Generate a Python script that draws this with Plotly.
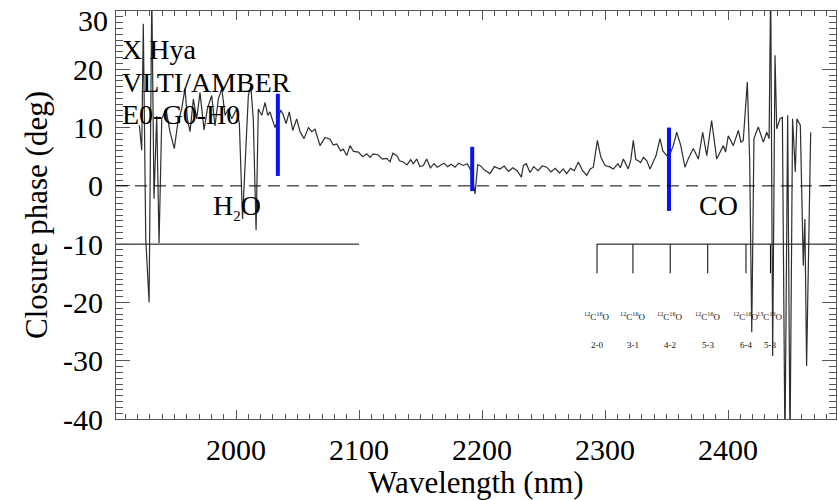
import plotly.graph_objects as go

# ---- data ----
wavelength = [1921.4, 1923.3, 1924.6, 1926.6, 1929.3, 1931.5, 1933.3, 1935.5, 1937.4, 1939.6,
              1943.0, 1946.3, 1949.8, 1952.6, 1955.8, 1958.5, 1960.4, 1962.6, 1965.3, 1968.0,
              1970.7, 1974.0, 1976.7, 1980.2, 1982.9, 1985.6, 1988.4, 1991.1, 1993.7, 1996.5,
              2000.5, 2002.7, 2005.3, 2008.0, 2010.0, 2012.0, 2014.0, 2016.3, 2018.1, 2020.9,
              2023.6, 2025.8, 2027.6, 2029.8, 2031.7, 2034.4, 2036.2, 2038.0, 2040.7, 2043.3,
              2046.1, 2049.3, 2052.0, 2055.3, 2058.8, 2061.5, 2064.2, 2068.3, 2072.4, 2076.4,
              2079.0, 2081.9, 2085.0, 2087.2, 2090.0, 2092.7, 2095.5, 2099.5, 2103.0, 2106.3,
              2109.0, 2111.6, 2115.7, 2119.0, 2122.5, 2125.2, 2127.5, 2130.6, 2133.0, 2136.0,
              2139.0, 2142.0, 2144.1, 2146.9, 2149.5, 2152.3, 2155.0, 2158.0, 2161.0, 2163.5,
              2165.9, 2169.0, 2172.0, 2175.0, 2178.0, 2181.0, 2184.8, 2188.0, 2191.6, 2194.3,
              2196.5, 2198.4, 2202.0, 2206.5, 2210.0, 2214.6, 2218.0, 2221.5, 2225.0, 2228.5,
              2232.0, 2233.6, 2236.0, 2239.0, 2242.0, 2245.5, 2249.0, 2252.6, 2256.0, 2259.5,
              2263.0, 2266.0, 2268.8, 2272.0, 2275.0, 2278.3, 2281.5, 2285.1, 2288.0, 2290.5,
              2293.8, 2296.5, 2300.0, 2303.5, 2306.8, 2310.5, 2312.5, 2314.9, 2318.9, 2321.0,
              2323.0, 2325.0, 2327.1, 2329.0, 2331.2, 2334.0, 2336.6, 2338.5, 2341.5, 2344.7,
              2347.0, 2350.2, 2352.0, 2355.5, 2358.3, 2361.5, 2365.0, 2368.0, 2371.8, 2375.9,
              2379.4, 2382.7, 2386.7, 2390.8, 2393.5, 2396.2, 2398.0, 2400.2, 2404.3, 2408.4,
              2410.5, 2412.4, 2415.7, 2417.6, 2419.3, 2421.1, 2424.6, 2428.7, 2431.5, 2433.4,
              2434.7, 2436.3, 2438.2, 2439.6, 2442.3, 2444.2, 2446.3, 2448.5, 2450.4, 2452.5,
              2454.7, 2456.0, 2458.8, 2461.2, 2462.5, 2463.9, 2467.2]
closure_phase = [10.4, 6.1, 27.8, -9.1, -20.0, 33.0, -2.2, 12.0, -9.8, 11.5,
                 13.2, 9.3, 6.4, 10.7, 13.2, 16.7, 11.5, 9.3, 14.9, 11.5,
                 16.0, 9.6, 13.2, 15.5, 10.3, 14.9, 16.7, 12.1, 13.2, 11.5,
                 13.2, 10.7, -5.7, 6.9, 15.5, 17.2, 11.5, -7.6, 13.2, 12.1,
                 14.3, 12.1, 12.7, 11.2, 10.0, 11.5, 13.0, 12.4, 10.7, 12.7,
                 9.5, 11.5, 9.3, 8.1, 10.0, 9.3, 9.7, 6.9, 8.3, 8.0,
                 7.0, 7.2, 6.0, 6.3, 5.2, 6.9, 5.9, 5.8, 5.0, 5.5,
                 4.9, 5.5, 5.3, 4.6, 4.7, 4.1, 5.6, 5.2, 4.3, 4.1,
                 3.6, 4.5, 3.8, 4.6, 3.3, 3.5, 4.6, 3.1, 3.8, 3.2,
                 3.5, 3.9, 3.3, 3.7, 3.2, 3.9, 3.5, 3.8, 2.4, -1.4,
                 3.6, 3.5, 2.7, 2.1, 3.3, 2.9, 3.4, 2.5, 3.1, 2.6,
                 1.5, 3.5, 3.8, 2.3, 3.3, 2.6, 3.4, 3.2, 2.4, 3.0,
                 2.2, 2.9, 2.1, 3.0, 2.6, 4.1, 2.7, 1.8, 2.9, 3.2,
                 7.8, 5.0, 3.5, 3.3, 2.9, 3.8, 3.1, 4.6, 2.9, 4.5,
                 7.8, 4.5, 4.3, 4.0, 4.9, 4.3, 2.9, 3.8, 5.2, 8.1,
                 6.0, 5.2, 5.0, 6.9, 9.2, 7.0, 3.2, 4.8, 6.4, 4.6,
                 9.2, 5.2, 11.2, 4.6, 5.8, 6.9, 5.8, 8.6, 6.9, 9.5,
                 7.5, 7.8, 17.8, 4.6, -25.1, 8.1, 10.1, 7.5, 9.2, 8.1,
                 35.0, -29.2, 22.4, 9.8, 11.5, 11.8, -45.0, 12.1, -45.0, 11.5,
                 2.4, 11.5, 10.4, -13.7, -5.7, -30.9, 9.2]

# error bars (blue) : wavelength, low, high
bar_wavelength = [2034.0, 2192.0, 2352.0]
bar_low = [1.7, -0.9, -4.3]
bar_high = [15.8, 6.7, 10.0]

# band markers
h2o_band = [1902.0, 2100.0]
co_band_end = 2490.0
band_level = -10.0
co_tick_bottom = -15.0
co_heads = [2293.5, 2322.7, 2353.0, 2383.5, 2414.6, 2434.5]
co_species = ["<sup>12</sup>C<sup>16</sup>O"] * 5 + ["<sup>13</sup>C<sup>16</sup>O"]
co_trans = ["2-0", "3-1", "4-2", "5-3", "6-4", "5-3"]

x_range = [1902.4, 2487.8]
y_range = [-40.0, 30.0]
y_tickvals = [-40, -30, -20, -10, 0, 10, 20, 30]
y_ticktext = ["-40", "-30", "-20", "-10", "0", "10", "20", ""]
top_label = "30"   # top y tick label, drawn just below its tick (as in the reference)

FONT = "Liberation Serif"

fig = go.Figure()

# H2O bracket line
fig.add_trace(go.Scatter(x=h2o_band, y=[band_level, band_level], mode="lines",
                         line=dict(color="black", width=1), showlegend=False, hoverinfo="skip"))
# CO bracket: horizontal line + ticks at band heads
fig.add_trace(go.Scatter(x=[co_heads[0], co_band_end], y=[band_level, band_level], mode="lines",
                         line=dict(color="black", width=1), showlegend=False, hoverinfo="skip"))
tx, ty = [], []
for h in co_heads:
    tx += [h, h, None]
    ty += [band_level, co_tick_bottom, None]
fig.add_trace(go.Scatter(x=tx, y=ty, mode="lines",
                         line=dict(color="black", width=1), showlegend=False, hoverinfo="skip"))

# zero line
fig.add_hline(y=0, line=dict(color="black", width=1, dash="12px,7px"))

# spectrum
fig.add_trace(go.Scatter(x=wavelength, y=closure_phase, mode="lines",
                         line=dict(color="#2e2e2e", width=1.2), showlegend=False))

# blue bars
bx, by = [], []
for w, lo, hi in zip(bar_wavelength, bar_low, bar_high):
    bx += [w, w, None]
    by += [lo, hi, None]
fig.add_trace(go.Scatter(x=bx, y=by, mode="lines",
                         line=dict(color="#0a14f0", width=4), showlegend=False))

# text annotations
for t, yy in zip(["X Hya", "VLTI/AMBER", "E0-G0-H0"], [23.4, 17.8, 12.2]):
    fig.add_annotation(x=0.006, y=yy, xref="paper", yref="y",
                       text=t, showarrow=False, xanchor="left", yanchor="middle",
                       font=dict(family=FONT, size=28, color="black"))
fig.add_annotation(x=2001, y=-3.6,
                   text="H<sub><span style='font-size:15px'>2</span></sub>O", showarrow=False,
                   font=dict(family=FONT, size=28, color="black"))
fig.add_annotation(x=2392, y=-3.3, text="CO", showarrow=False,
                   font=dict(family=FONT, size=28, color="black"))
for h, sp, tr in zip(co_heads, co_species, co_trans):
    fig.add_annotation(x=h, y=-22.3, text=sp, showarrow=False,
                       font=dict(family=FONT, size=9, color="#111"))
    fig.add_annotation(x=h, y=-27.3, text=tr, showarrow=False,
                       font=dict(family=FONT, size=9, color="#111"))
# top tick label placed slightly below its tick so it stays inside the page
fig.add_annotation(x=0, y=y_tickvals[-1], xref="paper", yref="y", text=top_label,
                   showarrow=False, xanchor="right", yanchor="top", xshift=-6, yshift=9,
                   font=dict(family=FONT, size=30, color="black"))

axis_common = dict(showline=True, linecolor="#555", linewidth=1, mirror="ticks",
                   ticks="inside", tickcolor="#555", showgrid=False, zeroline=False,
                   ticklabeloverflow="allow", automargin=False,
                   tickfont=dict(family=FONT, size=30, color="black"))

fig.update_xaxes(range=x_range, tick0=2000, dtick=100, ticklen=9, tickwidth=1,
                 minor=dict(dtick=10, ticklen=5, ticks="inside", tickcolor="#555", showgrid=False),
                 title=dict(text="Wavelength (nm)", font=dict(family=FONT, size=31, color="black"),
                            standoff=2),
                 ticklabelstandoff=4, **axis_common)
fig.update_yaxes(range=y_range, tickmode="array", tickvals=y_tickvals, ticktext=y_ticktext,
                 ticklen=14, tickwidth=1,
                 minor=dict(dtick=1, ticklen=7, ticks="inside", tickcolor="#555", showgrid=False),
                 title=dict(text="Closure phase (deg)", font=dict(family=FONT, size=31, color="black"),
                            standoff=6),
                 ticklabelstandoff=6, **axis_common)

fig.update_layout(width=838, height=500, margin=dict(l=116, r=2, t=11, b=81),
                  plot_bgcolor="white", paper_bgcolor="white", showlegend=False,
                  font=dict(family=FONT))

fig.write_html("out.html")
